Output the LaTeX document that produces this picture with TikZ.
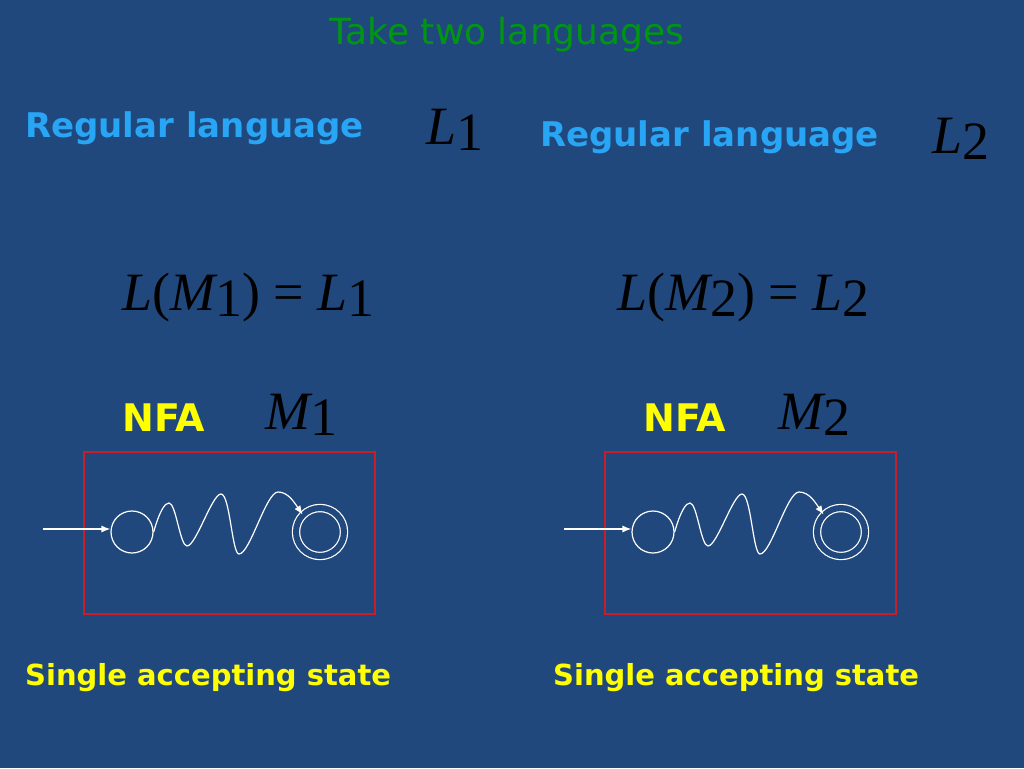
\documentclass[tikz,border=0pt]{standalone}
\usepackage{fontspec}
\setmainfont{DejaVu Sans}
\newfontfamily\mathser{Liberation Serif}
\definecolor{bg}{RGB}{33,72,124}
\definecolor{ttl}{RGB}{0,150,20}
\definecolor{reg}{RGB}{40,165,245}
\definecolor{yel}{RGB}{255,255,0}
\definecolor{redb}{RGB}{200,30,40}
\usetikzlibrary{arrows.meta}
\tikzset{
 lbl/.style={inner sep=0pt,anchor=west,font=\bfseries\fontsize{34}{36}\selectfont},
 mth/.style={inner sep=0pt,anchor=west,font=\mathser\fontsize{54}{56}\selectfont},
 st/.style={circle,draw=white,line width=1.2pt,minimum size=42pt,inner sep=0pt},
 acc/.style={st,double=bg,double distance=6pt,minimum size=48pt},
 box/.style={draw=redb,line width=1.2pt},
 edge/.style={white,line width=1.2pt,-{Latex[length=9pt,width=7pt]}}
}
\newcommand\sbs[1]{\raisebox{-6pt}{#1}}
\begin{document}
\begin{tikzpicture}[x=1pt,y=-1pt]
\fill[bg] (0,0) rectangle (1024,768);
\useasboundingbox (0,0) rectangle (1024,768);
\node[inner sep=0pt,text=ttl,font=\fontsize{36}{40}\selectfont] (title) at (507,35) {Take two languages};
\node[lbl,text=reg] (rl1) at (25,128) {Regular language};
\node[mth] (l1) at (426,130) {\itshape L\upshape\sbs{1}};
\node[lbl,text=reg] (rl2) at (540,137) {Regular language};
\node[mth] (l2) at (932,139) {\itshape L\upshape\sbs{2}};
\node[mth] (eq1) at (122,298) {\itshape L\upshape (\itshape M\upshape\sbs{1}) = \itshape L\upshape\sbs{1}};
\node[mth] (eq2) at (617,298) {\itshape L\upshape (\itshape M\upshape\sbs{2}) = \itshape L\upshape\sbs{2}};
\node[lbl,text=yel,font=\bfseries\fontsize{38}{40}\selectfont] (nfa1) at (122,418) {NFA};
\node[mth] (m1) at (265,415) {\itshape M\upshape\sbs{1}};
\node[lbl,text=yel,font=\bfseries\fontsize{38}{40}\selectfont] (nfa2) at (643,418) {NFA};
\node[mth] (m2) at (778,415) {\itshape M\upshape\sbs{2}};
\node[lbl,text=yel,font=\bfseries\fontsize{29}{31}\selectfont] (s1) at (25,678) {Single accepting state};
\node[lbl,text=yel,font=\bfseries\fontsize{29}{31}\selectfont] (s2) at (553,678) {Single accepting state};
\foreach \dx/\n in {0/a,521/b}{
 \begin{scope}[xshift=\dx]
 \draw[box] (84,452) rectangle (375,614);
 \node[st] (q0\n) at (132,532) {};
 \node[acc] (qf\n) at (320,532) {};
 \coordinate (in\n) at (43,529);
 \draw[edge] (in\n) -- (q0\n.west|-in\n);
 \draw[white,line width=1.2pt,-{Latex[length=9pt,width=7pt]}] (q0\n.east) .. controls (160,510) and (165,503) .. (169,503)
   .. controls (176,503) and (180,546) .. (187,546)
   .. controls (196,546) and (212,494) .. (221,494)
   .. controls (230,494) and (232,554) .. (239,554)
   .. controls (250,554) and (266,492) .. (278,492)
   .. controls (288,492) and (294,502) .. (qf\n.north west);
 \end{scope}}
\end{tikzpicture}
\end{document}
